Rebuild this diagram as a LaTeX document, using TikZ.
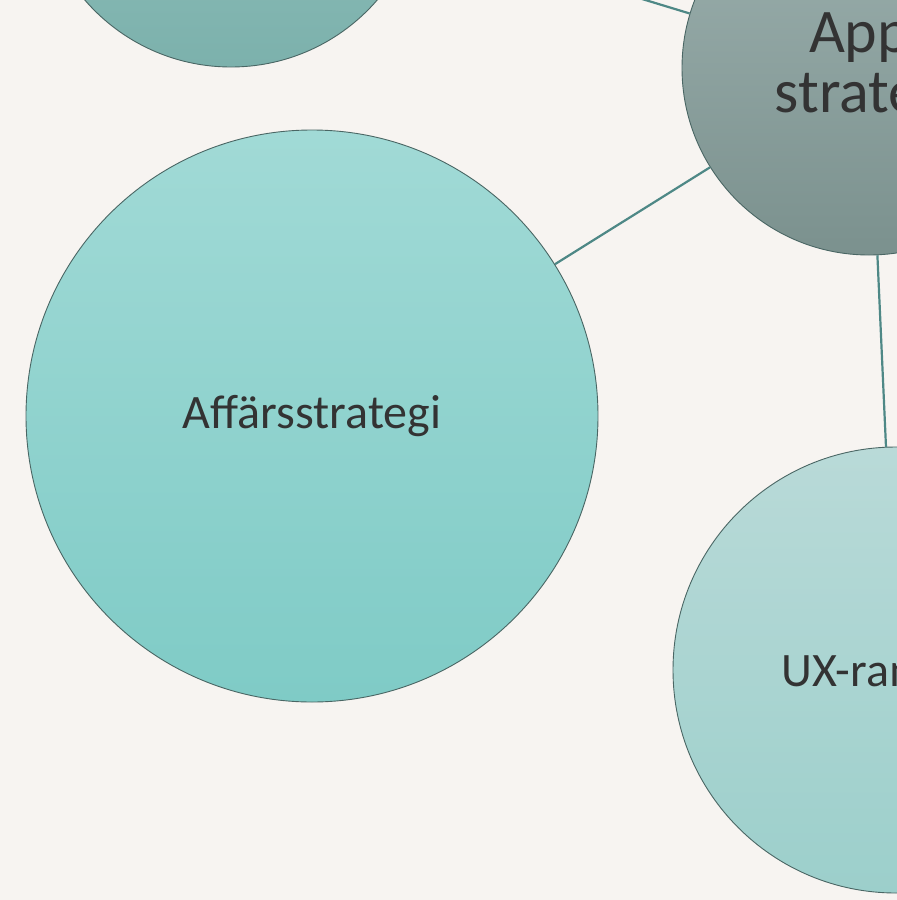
\documentclass[tikz,border=0pt]{standalone}
\usepackage{fontspec}
\setmainfont{Carlito}
\definecolor{bg}{HTML}{F7F4F1}
\definecolor{txt}{HTML}{333333}
\definecolor{edge}{HTML}{4A6664}
\definecolor{conn}{HTML}{4E8886}
\definecolor{tlTop}{HTML}{9CC9C5}
\definecolor{tlBot}{HTML}{7CB1AC}
\definecolor{appTop}{HTML}{9DB1AF}
\definecolor{appBot}{HTML}{7B918E}
\definecolor{affTop}{HTML}{A1DAD6}
\definecolor{affBot}{HTML}{7FCBC6}
\definecolor{uxTop}{HTML}{B9DAD8}
\definecolor{uxBot}{HTML}{9CCFCB}
\tikzset{
  bubble/.style={circle, draw=edge, line width=0.9pt, inner sep=0pt, text=txt, align=center},
  link/.style={draw=conn, line width=2.2pt},
}
\begin{document}
\begin{tikzpicture}[x=1pt,y=-1pt]
\useasboundingbox (0,0) rectangle (897,900);
\fill[bg] (0,0) rectangle (897,900);
\clip (0,0) rectangle (897,900);
\node[bubble, minimum size=386, top color=tlTop, bottom color=tlBot] (tl) at (231,-126) {};
\node[bubble, minimum size=374, top color=appTop, bottom color=appBot,
      font=\fontsize{62}{60}\selectfont] (app) at (869,68) {App-\\strategi};
\node[bubble, minimum size=572, top color=affTop, bottom color=affBot,
      font=\fontsize{48}{56}\selectfont] (aff) at (312,416) {Affärsstrategi};
\node[bubble, minimum size=446, top color=uxTop, bottom color=uxBot,
      font=\fontsize{48}{56}\selectfont] (ux) at (896,670) {UX-ramverk};
\draw[link] (tl) -- (app);
\draw[link] (aff) -- (app);
\draw[link] (app) -- (ux);
\end{tikzpicture}
\end{document}
